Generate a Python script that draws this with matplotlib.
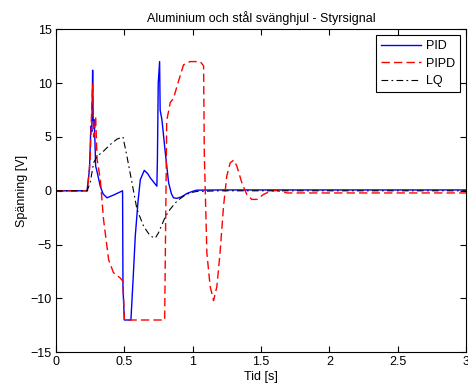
import numpy as np
import matplotlib
matplotlib.use("Agg")
import matplotlib.pyplot as plt

plt.rcParams['font.family'] = ['Liberation Sans', 'DejaVu Sans']

# PID (blue solid)
t_pid = [0, 0.227, 0.245, 0.255, 0.262, 0.268, 0.272, 0.28, 0.29, 0.3, 0.324, 0.345, 0.373,
         0.42, 0.487, 0.49, 0.5, 0.548, 0.565, 0.58, 0.6, 0.617, 0.646, 0.67, 0.69, 0.738,
         0.742, 0.748, 0.758, 0.762, 0.775, 0.8, 0.824, 0.845, 0.86, 0.885, 0.92, 0.958, 1.0,
         1.03, 1.2, 1.5, 2.0, 2.5, 3.0]
v_pid = [0, 0, 2.0, 6.0, 5.5, 11.2, 6.5, 6.6, 2.3, 1.8, 0.4, -0.3, -0.65,
         -0.4, 0.0, -9.0, -12, -12, -8.0, -4.2, -1.0, 1.05, 1.9, 1.6, 1.2, 0.43,
         3.0, 10.0, 12.0, 7.5, 6.6, 3.5, 0.74, -0.3, -0.65, -0.7, -0.55, -0.25, -0.05,
         0.06, 0.08, 0.08, 0.08, 0.08, 0.08]

# PIPD (red dashed)
t_pipd = [0, 0.23, 0.25, 0.262, 0.268, 0.275, 0.282, 0.29, 0.3, 0.324, 0.348, 0.385, 0.42,
          0.47, 0.49, 0.5, 0.795, 0.81, 0.816, 0.836, 0.86, 0.885, 0.933, 0.98, 1.055, 1.08,
          1.085, 1.104, 1.128, 1.153, 1.177, 1.2, 1.226, 1.25, 1.275, 1.3, 1.323, 1.36, 1.396,
          1.433, 1.47, 1.518, 1.57, 1.616, 1.69, 2.0, 2.5, 3.0]
v_pipd = [0, 0, 3.0, 8.0, 9.9, 5.0, 5.5, 6.9, 3.0, 1.05, -2.7, -6.4, -7.6,
          -8.1, -8.4, -12, -12, 6.5, 6.9, 8.2, 8.6, 9.7, 11.7, 12, 12, 11.6,
          3.5, -5.8, -8.9, -10.2, -8.9, -5.8, -1.4, 1.4, 2.6, 2.85, 2.3, 0.74, -0.34,
          -0.8, -0.8, -0.34, -0.03, 0.03, -0.2, -0.2, -0.2, -0.2]

# LQ (black dash-dot)
t_lq = [0, 0.227, 0.25, 0.275, 0.3, 0.349, 0.397, 0.446, 0.49, 0.519, 0.556, 0.592, 0.641,
        0.69, 0.726, 0.75, 0.8, 0.836, 0.885, 0.933, 0.98, 1.03, 1.2, 2.0, 3.0]
v_lq = [0, 0, 0.74, 2.6, 3.2, 3.7, 4.3, 4.8, 5.0, 3.2, 0.74, -1.7, -3.3,
        -4.2, -4.4, -3.9, -2.4, -1.7, -0.96, -0.5, -0.19, -0.06, 0.0, 0.0, 0.0]

fig = plt.figure(figsize=(4.68, 3.88), dpi=100)
ax = fig.add_axes([0.1197, 0.092, 0.876, 0.8325])

ax.plot(t_pid, v_pid, color="#0000ff", lw=1.0, label="PID")
ax.plot(t_pipd, v_pipd, color="#ff0000", lw=1.0, ls=(0, (6, 3)), label="PIPD")
ax.plot(t_lq, v_lq, color="black", lw=0.8, ls=(0, (6, 3, 1.5, 3)), label="LQ")

ax.set_xlim(0, 3)
ax.set_ylim(-15, 15)
ax.set_xticks(np.arange(0, 3.01, 0.5))
ax.set_xticklabels(["0", "0.5", "1", "1.5", "2", "2.5", "3"])
ax.set_yticks(np.arange(-15, 16, 5))
ax.tick_params(direction="in", top=True, right=True, labelsize=9, length=4, pad=3)
ax.set_title("Aluminium och stål svänghjul - Styrsignal", fontsize=9, pad=5)
ax.set_xlabel("Tid [s]", fontsize=9, labelpad=2)
ax.set_ylabel("Spänning [V]", fontsize=9, labelpad=2)

leg = ax.legend(loc="upper right", fontsize=9, fancybox=False, framealpha=1,
                edgecolor="black", borderaxespad=0.45, handlelength=3.2,
                handletextpad=0.4, labelspacing=0.45, borderpad=0.4)
leg.get_frame().set_linewidth(0.8)

fig.savefig("out.png", dpi=100)
